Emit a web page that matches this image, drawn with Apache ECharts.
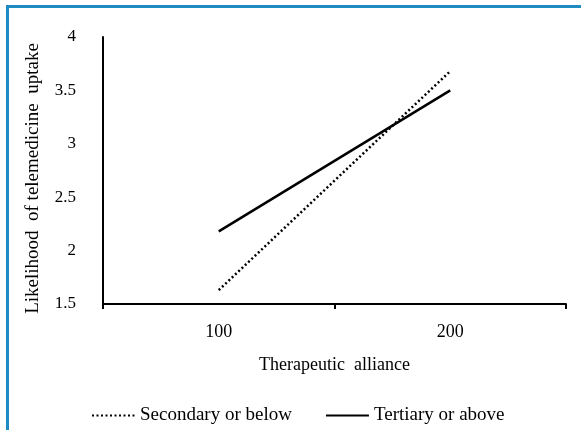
<!DOCTYPE html>
<html><head><meta charset="utf-8">
<script src="https://cdn.jsdelivr.net/npm/echarts@6/dist/echarts.min.js"></script>
<style>
html,body{margin:0;padding:0;background:#fff;}
#wrap{position:absolute;left:0;top:0;width:581px;height:430px;overflow:hidden;}
#border{position:absolute;left:6px;top:5px;width:700px;height:600px;border-left:3px solid #1e8bc3;border-top:3px solid #1e8bc3;box-sizing:border-box;}
#c{position:absolute;left:0;top:0;width:581px;height:430px;}
</style></head>
<body><div id="wrap"><div id="border"></div><div id="c"></div></div>
<script>
const categories = ['100', '200'];
const secondary = [1.63, 3.68];
const tertiary = [2.18, 3.50];
const yTicks = [1.5, 2, 2.5, 3, 3.5, 4];
const seriesNames = ['Secondary or below', 'Tertiary or above'];

const font = 'Liberation Serif, Times New Roman, serif';
const chart = echarts.init(document.getElementById('c'), null, {renderer: 'canvas'});
chart.setOption({
  backgroundColor: 'transparent',
  animation: false,
  grid: {left: 103, top: 37, right: 15, bottom: 126, containLabel: false},
  legend: {
    bottom: 0, left: 86,
    itemWidth: 43, itemHeight: 10, itemGap: 33,
    itemStyle: {color: 'rgba(0,0,0,0)', borderWidth: 0, opacity: 0},
    textStyle: {fontFamily: font, fontSize: 19, color: '#000'},
    data: seriesNames
  },
  xAxis: {
    type: 'category', data: categories, boundaryGap: true,
    name: 'Therapeutic  alliance', nameLocation: 'middle', nameGap: 52,
    nameTextStyle: {fontFamily: font, fontSize: 18, color: '#000'},
    axisLine: {lineStyle: {color: '#000', width: 2}},
    axisTick: {show: true, length: 5, lineStyle: {color: '#000', width: 2}},
    axisLabel: {fontFamily: font, fontSize: 18, color: '#000', margin: 19},
    splitLine: {show: false}
  },
  yAxis: {
    type: 'value', min: yTicks[0], max: yTicks[yTicks.length-1], interval: 0.5,
    name: 'Likelihood  of telemedicine  uptake', nameLocation: 'middle', nameGap: 60,
    nameTextStyle: {fontFamily: font, fontSize: 19, color: '#000', padding: [0, 16, 0, 0]},
    axisLine: {show: true, lineStyle: {color: '#000', width: 2}},
    axisTick: {show: false},
    axisLabel: {fontFamily: font, fontSize: 17, color: '#000', margin: 27},
    splitLine: {show: false}
  },
  series: [
    {name: seriesNames[0], type: 'line', data: secondary, symbol: 'none',
     lineStyle: {color: '#000', width: 2.5, type: [2, 2.5]}, itemStyle: {color: '#000'}},
    {name: seriesNames[1], type: 'line', data: tertiary, symbol: 'none',
     lineStyle: {color: '#000', width: 2.5, type: 'solid'}, itemStyle: {color: '#000'}}
  ]
});
</script></body></html>
